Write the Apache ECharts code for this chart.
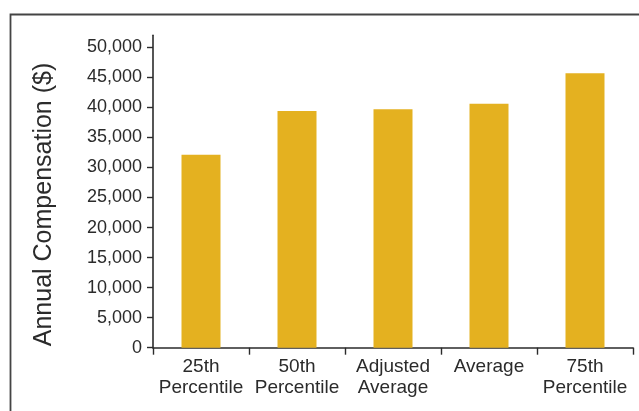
<!DOCTYPE html>
<html>
<head>
<meta charset="utf-8">
<script src="https://cdn.jsdelivr.net/npm/echarts@6/dist/echarts.min.js"></script>
<style>
  html, body { margin: 0; padding: 0; background: #fff; }
  #chart { width: 639px; height: 411px; }
</style>
</head>
<body>
<div id="chart"></div>
<script>
// Compensation levels by statistic
const categories = ['25th\nPercentile', '50th\nPercentile', 'Adjusted\nAverage', 'Average', '75th\nPercentile'];
const compensation = [32100, 39400, 39700, 40600, 45700];
const yTicks = [0, 5000, 10000, 15000, 20000, 25000, 30000, 35000, 40000, 45000, 50000];

const FONT = "'Liberation Sans', Arial, sans-serif";
const INK = '#2b2b2b';

const chart = echarts.init(document.getElementById('chart'), null, { renderer: 'canvas' });

chart.setOption({
  animation: false,
  backgroundColor: '#ffffff',
  graphic: [{
    type: 'rect',
    silent: true,
    shape: { x: 10.5, y: 14.5, width: 700, height: 500 },
    style: { fill: 'none', stroke: '#444444', lineWidth: 1.8 }
  }],
  grid: { left: 153, right: 6, top: 35.3, bottom: 63.3, containLabel: false },
  xAxis: {
    type: 'category',
    data: categories,
    boundaryGap: true,
    axisLine: { show: true, lineStyle: { color: INK, width: 1.6 } },
    axisTick: { show: true, alignWithLabel: false, length: 7, lineStyle: { color: INK, width: 1.4 } },
    axisLabel: {
      color: INK, fontFamily: FONT, fontSize: 19, lineHeight: 21,
      margin: 9, interval: 0
    }
  },
  yAxis: {
    type: 'value',
    min: 0,
    max: 52000,
    interval: 5000,
    name: 'Annual Compensation ($)',
    nameLocation: 'middle',
    nameGap: 96,
    nameRotate: 90,
    nameTextStyle: { color: INK, fontFamily: FONT, fontSize: 25, padding: [0, 26, 0, 0] },
    splitLine: { show: false },
    axisLine: { show: true, onZero: false, lineStyle: { color: INK, width: 1.6 } },
    axisTick: { show: true, length: 6, customValues: yTicks, lineStyle: { color: INK, width: 1.4 } },
    axisLabel: {
      color: INK, fontFamily: FONT, fontSize: 18, margin: 11,
      customValues: yTicks,
      formatter: v => v.toLocaleString('en-US')
    }
  },
  series: [{
    type: 'bar',
    data: compensation,
    barWidth: 39,
    itemStyle: { color: '#e4b120' }
  }]
});
</script>
</body>
</html>
